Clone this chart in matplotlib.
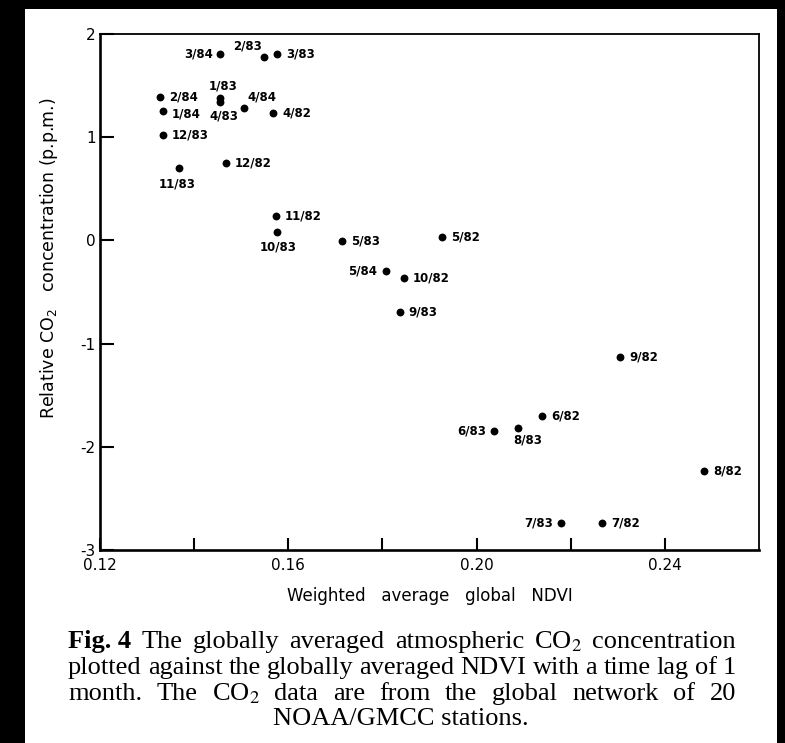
import matplotlib
matplotlib.use("Agg")
from matplotlib import pyplot as plt
from matplotlib.patches import Rectangle

# month labels and values
labels = ["3/84", "2/83", "3/83", "2/84", "1/83", "4/83", "4/84", "1/84", "4/82",
          "12/83", "11/83", "12/82", "11/82", "10/83", "5/83", "5/82", "5/84",
          "10/82", "9/83", "9/82", "6/82", "6/83", "8/83", "8/82", "7/83", "7/82"]
ndvi = [0.1455, 0.1548, 0.1576, 0.1327, 0.1455, 0.1455, 0.1506, 0.1334, 0.1568,
        0.1334, 0.1368, 0.1468, 0.1574, 0.1576, 0.1714, 0.1927, 0.1807,
        0.1846, 0.1837, 0.2305, 0.2139, 0.2037, 0.2088, 0.2483, 0.2179, 0.2266]
co2 = [1.81, 1.78, 1.81, 1.39, 1.38, 1.34, 1.28, 1.25, 1.23,
       1.02, 0.70, 0.75, 0.24, 0.08, -0.01, 0.03, -0.30,
       -0.36, -0.69, -1.13, -1.70, -1.85, -1.82, -2.23, -2.74, -2.74]

xticks = [0.12, 0.14, 0.16, 0.18, 0.20, 0.22, 0.24]
xticklabels = ["0.12", "", "0.16", "", "0.20", "", "0.24"]
yticks = [-3, -2, -1, 0, 1, 2]
yticklabels = ["-3", "-2", "-1", "0", "1", "2"]

caption = [
    ["Fig. 4", "The", "globally", "averaged", "atmospheric", "CO$_2$", "concentration"],
    "plotted against the globally averaged NDVI with a time lag of 1".split(),
    "month. The CO$_2$ data are from the global network of 20".split(),
]
caption_last = "NOAA/GMCC stations."

# label placement (pixels right / down from the dot, alignment); default is right of dot
place = {
    "3/84": (-7, 0, "right"), "5/84": (-9, 0, "right"),
    "6/83": (-8, 0, "right"), "7/83": (-8, 0, "right"),
    "11/83": (-2, 16, "center"), "10/83": (1, 15, "center"),
    "8/83": (-5, 12, "left"), "1/83": (3, -12, "center"),
    "2/83": (-2, -11, "right"), "4/84": (3, -11, "left"),
    "4/83": (4, 14, "center"), "1/84": (9, 3, "left"),
}

W, H = 785, 743
fig = plt.figure(figsize=(W / 100, H / 100), dpi=100, facecolor="black")
fig.patches.append(Rectangle((25 / W, 0), 752 / W, (H - 9) / H, transform=fig.transFigure,
                             facecolor="white", edgecolor="none", zorder=-1))

ax = fig.add_axes([100 / W, (H - 550) / H, 659 / W, 516 / H])
ax.scatter(ndvi, co2, s=32, color="black", linewidths=0, zorder=3)
for lab, x, y in zip(labels, ndvi, co2):
    dx, dy, ha = place.get(lab, (9, 0, "left"))
    ax.annotate(lab, (x, y), xytext=(dx * 0.72, -dy * 0.72), textcoords="offset points",
                ha=ha, va="center", fontsize=8.5, fontweight="bold")

ax.set_xlim(0.12, 0.26)
ax.set_ylim(-3, 2)
ax.set_xticks(xticks)
ax.set_xticklabels(xticklabels)
ax.set_yticks(yticks)
ax.set_yticklabels(yticklabels)
ax.tick_params(axis="x", direction="in", length=8.6, width=1.5, pad=6, labelsize=11)
ax.tick_params(axis="y", direction="in", length=10, width=1.5, pad=3, labelsize=11)
for s in ["left", "bottom"]:
    ax.spines[s].set_linewidth(1.9)
for s in ["top", "right"]:
    ax.spines[s].set_linewidth(1.3)

ax.set_xlabel("Weighted   average   global   NDVI", fontsize=12)
ax.xaxis.set_label_coords(0.5, (550 - 596) / 516)
ax.xaxis.label.set_va("center")
ax.set_ylabel("Relative CO$_2$   concentration (p.p.m.)", fontsize=12.5)
ax.yaxis.set_label_coords((49 - 100) / 659, (550 - 258) / 516)
ax.yaxis.label.set_va("center")

# justified caption below the plot
serif = ["Liberation Serif", "DejaVu Serif"]
cap_size = 19
x0, x1 = 68, 736
baselines = [648, 674, 700, 725]
renderer = fig.canvas.get_renderer()
for words, yb in zip(caption, baselines):
    texts = []
    for w in words:
        bold = w == "Fig. 4"
        texts.append(fig.text(0, 1 - yb / H, w, fontsize=cap_size, family=serif,
                              math_fontfamily="stix",
                              fontweight="bold" if bold else "normal",
                              ha="left", va="baseline"))
    widths = [t.get_window_extent(renderer).width for t in texts]
    gap = (x1 - x0 - sum(widths)) / (len(words) - 1)
    xpos = x0
    for t, wd in zip(texts, widths):
        t.set_x(xpos / W)
        xpos += wd + gap
fig.text(401 / W, 1 - baselines[3] / H, caption_last, fontsize=cap_size, family=serif,
         ha="center", va="baseline")

fig.savefig("out.png", dpi=100, facecolor=fig.get_facecolor())
